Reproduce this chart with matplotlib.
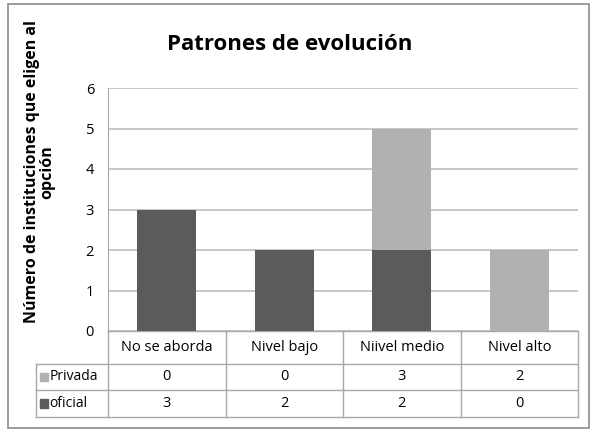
import matplotlib
matplotlib.use("Agg")
import matplotlib.pyplot as plt
import matplotlib.transforms as mtransforms
import numpy as np

# datos
categorias = ["No se aborda", "Nivel bajo", "Niivel medio", "Nivel alto"]
oficial = [3, 2, 2, 0]
privada = [0, 0, 3, 2]
series = ["Privada", "oficial"]

col_oficial = "#5b5b5b"
col_privada = "#b1b1b1"
col_linea = "#a8a8a8"

plt.rcParams["font.family"] = ["Open Sans", "DejaVu Sans"]

W, H = 590, 429
fig = plt.figure(figsize=(W / 100, H / 100), dpi=100)

# marco exterior
fig.patches.append(plt.Rectangle((8 / W, 1 - 428 / H), 581 / W, 424 / H,
                                 transform=fig.transFigure, fill=False,
                                 edgecolor="#8c8c8c", linewidth=1.2))

ax = fig.add_axes([108 / W, 1 - 331 / H, 470 / W, 243 / H])
x = np.arange(len(categorias)) + 0.5
ax.bar(x, oficial, width=0.5, color=col_oficial, zorder=3)
ax.bar(x, privada, width=0.5, bottom=oficial, color=col_privada, zorder=3)
ax.set_xlim(0, len(categorias))
ax.set_ylim(0, 6)
ax.set_yticks(range(0, 7))
ax.tick_params(axis="y", length=0, labelsize=10.5, pad=10)
ax.set_xticks([])
ax.grid(axis="y", color="#bdbdbd", linewidth=1.2, zorder=0)
for s in ["top", "right", "bottom"]:
    ax.spines[s].set_visible(False)
ax.spines["left"].set_color(col_linea)

ax.set_ylabel("Número de instituciones que eligen al\nopción", fontsize=11.5,
              fontweight="bold", linespacing=0.95)
ax.yaxis.set_label_coords(-0.112, 0.655)

fig.text(290 / W, 1 - 45 / H, "Patrones de evolución", ha="center", va="center",
         fontsize=16, fontweight="bold")

# tabla de datos
tr = mtransforms.blended_transform_factory(ax.transData, fig.transFigure)
filas_y = [331, 364, 390, 417]
fy = [1 - v / H for v in filas_y]
x_izq = -72 / 117.5
n = len(categorias)
lw = 1.0
ax.plot([0, n], [fy[0], fy[0]], transform=tr, color=col_linea, lw=lw, clip_on=False)
for yy in fy[1:]:
    ax.plot([x_izq, n], [yy, yy], transform=tr, color=col_linea, lw=lw, clip_on=False)
for i in range(n + 1):
    ax.plot([i, i], [fy[0], fy[3]], transform=tr, color=col_linea, lw=lw, clip_on=False)
ax.plot([x_izq, x_izq], [fy[1], fy[3]], transform=tr, color=col_linea, lw=lw, clip_on=False)

ymid_head = (fy[0] + fy[1]) / 2
for xi, c in zip(x, categorias):
    ax.text(xi, ymid_head, c, transform=tr, ha="center", va="center", fontsize=10.5)

valores = {"Privada": privada, "oficial": oficial}
colores = {"Privada": col_privada, "oficial": col_oficial}
for k, s in enumerate(series):
    ym = (fy[k + 1] + fy[k + 2]) / 2
    for xi, v in zip(x, valores[s]):
        ax.text(xi, ym, str(v), transform=tr, ha="center", va="center", fontsize=10.5)
    ax.text(x_izq + 0.115, ym, s, transform=tr, ha="left", va="center", fontsize=10)
    ax.add_patch(plt.Rectangle((x_izq + 0.034, ym - 0.0095), 0.065, 0.019,
                               transform=tr, color=colores[s], clip_on=False))

fig.savefig("out.png", dpi=100)
